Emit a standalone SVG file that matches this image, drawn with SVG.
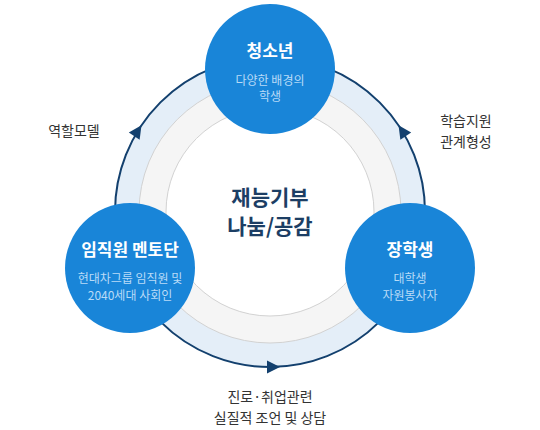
<svg xmlns="http://www.w3.org/2000/svg" width="540" height="430" viewBox="0 0 540 430">
<style>
text{font-family:"Noto Sans CJK KR","Noto Sans",sans-serif;text-anchor:middle}
.node circle{fill:#1985d8}
.ttl{font-size:17px;font-weight:700;fill:#ffffff}
.sub{font-size:12px;fill:#b9dbf7}
.lbl{font-size:14px;fill:#333333}
.ctr{font-size:21px;font-weight:700;fill:#1c3e64}
.arr{fill:#13406e}
</style>
<defs>
<path id="ah" d="M0,0 L-13,-6.5 L-13,6.5 Z"/>
</defs>
<g id="ring">
<circle cx="270" cy="212" r="155" fill="#e4eef8" stroke="#13406e" stroke-width="2"/>
<circle cx="270" cy="212" r="131" fill="#f5f5f5" stroke="#d2d2d2" stroke-width="1"/>
<circle cx="270" cy="212" r="104" fill="#ffffff" stroke="#d2d2d2" stroke-width="1"/>
</g>
<g id="connectors">
<use href="#ah" class="arr" transform="translate(141.5,125.3) rotate(-56)"/>
<use href="#ah" class="arr" transform="translate(398.5,125.3) rotate(-124)"/>
<use href="#ah" class="arr" transform="translate(280,367)"/>
</g>
<g id="center">
<text class="ctr" x="270" y="205">재능기부</text>
<text class="ctr" x="270" y="234">나눔/공감</text>
</g>
<g id="node-youth" class="node">
<circle cx="270" cy="69" r="65"/>
<text class="ttl" x="270" y="57">청소년</text>
<text class="sub" x="270" y="85">다양한 배경의</text>
<text class="sub" x="270" y="101">학생</text>
</g>
<g id="node-mentor" class="node">
<circle cx="130" cy="268" r="65"/>
<text class="ttl" x="130" y="256">임직원 멘토단</text>
<text class="sub" x="130" y="283">현대차그룹 임직원 및</text>
<text class="sub" x="130" y="300">2040세대 사회인</text>
</g>
<g id="node-scholar" class="node">
<circle cx="410" cy="268" r="65"/>
<text class="ttl" x="410" y="256">장학생</text>
<text class="sub" x="410" y="283">대학생</text>
<text class="sub" x="410" y="300">자원봉사자</text>
</g>
<g id="labels">
<text class="lbl" x="74" y="136">역할모델</text>
<text class="lbl" x="466" y="126">학습지원</text>
<text class="lbl" x="466" y="147">관계형성</text>
<text class="lbl" x="270" y="402">진로·취업관련</text>
<text class="lbl" x="270" y="423">실질적 조언 및 상담</text>
</g>
</svg>
